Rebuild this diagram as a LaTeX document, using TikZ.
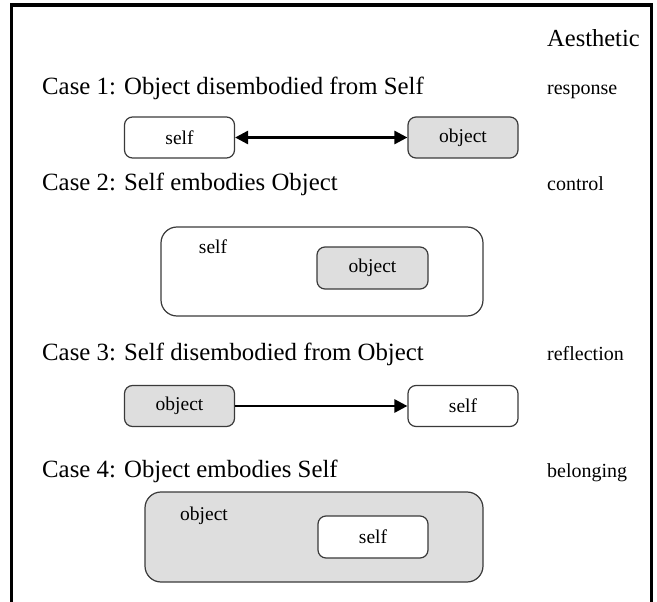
\documentclass[tikz,border=0pt]{standalone}
\usepackage{fontspec}
\setmainfont{Liberation Serif}
\usetikzlibrary{arrows.meta}

\definecolor{boxgray}{HTML}{DEDEDE}
\definecolor{edgegray}{HTML}{3A3A3A}

\tikzset{
  casetitle/.style={anchor=base west,inner sep=0pt,font=\fontsize{24.8}{28}\selectfont},
  aesth/.style={anchor=base west,inner sep=0pt,font=\fontsize{20}{24}\selectfont},
  boxtext/.style={inner sep=0pt,font=\fontsize{19.5}{23}\selectfont},
  smallbox/.style={draw=edgegray,line width=1.2pt,rounded corners=8pt,
    minimum width=110pt,minimum height=41pt,boxtext},
  bigbox/.style={draw=edgegray,line width=1.2pt,rounded corners=16pt},
  grayfill/.style={fill=boxgray},
  tip/.style={line width=2.7pt},
}

\begin{document}
\begin{tikzpicture}[x=1pt,y=-1pt]
    \useasboundingbox (0,0) rectangle (657,602);
    \draw[line width=3.5pt] (11.5,602) -- (11.5,5) -- (651.5,5) -- (651.5,602);

    \node[aesth,font=\fontsize{24.5}{28}\selectfont](aesthetic)at(547,47){Aesthetic};

    % case 1
    \node[casetitle](case1)at(42,95){Case 1: Object disembodied from Self};
    \node[aesth](response)at(547,95){response};
    \node[smallbox](self1)at(179.5,137.5){self};
    \node[smallbox,grayfill](object1)at(463,137.5){object};
    \draw[tip,{Triangle[length=13pt,width=13pt]}-{Triangle[length=13pt,width=13pt]}] (self1) to (object1);

    % case 2
    \node[casetitle](case2)at(42,190){Case 2: Self embodies Object};
    \node[aesth](control)at(547,190){control};
    \node[bigbox,minimum width=322pt,minimum height=89pt](self2)at(322,271.5){};
    \node[boxtext](self2text)at(213,247){self};
    \node[smallbox,grayfill,minimum width=111pt,minimum height=42pt](object2)at(372.5,268){object};

    % case 3
    \node[casetitle](case3)at(42,360){Case 3: Self disembodied from Object};
    \node[aesth](reflection)at(547,360){reflection};
    \node[smallbox,grayfill](object3)at(179.5,406){object};
    \node[smallbox](self3)at(463,406){self};
    \draw[tip,-{Triangle[length=13pt,width=13pt]}] (object3) to (self3);

    % case 4
    \node[casetitle](case4)at(42,477){Case 4: Object embodies Self};
    \node[aesth](belonging)at(547,477){belonging};
    \node[bigbox,grayfill,minimum width=338pt,minimum height=90pt](object4)at(314,537){};
    \node[boxtext](object4text)at(204,516){object};
    \node[smallbox,fill=white,minimum height=42pt](self4)at(373,537){self};
\end{tikzpicture}
\end{document}
